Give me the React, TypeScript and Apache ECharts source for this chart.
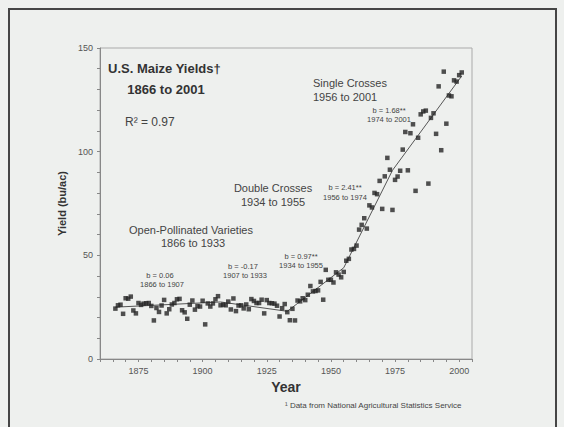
import React, { useEffect, useRef } from "react";
import * as echarts from "echarts";

// U.S. maize yields (bu/ac), one value per year starting 1866
const firstYear = 1866;
const yields = [
  24.3, 25.9, 26.2, 21.8, 29.3, 29.1, 30.1, 23.4, 22.0, 27.0,
  26.1, 26.7, 26.9, 27.0, 25.6, 18.6, 24.6, 22.7, 25.8, 28.5,
  22.0, 24.0, 26.3, 27.0, 28.8, 29.0, 23.5, 22.5, 19.4, 26.2,
  28.2, 23.8, 25.5, 25.3, 28.1, 16.7, 26.8, 25.3, 26.8, 28.8,
  30.3, 25.9, 26.2, 25.9, 27.7, 23.9, 29.2, 23.1, 25.8, 25.9,
  24.4, 26.3, 24.0, 28.9, 28.0, 27.0, 27.0, 28.6, 22.0, 28.4,
  27.0, 26.9, 26.7, 25.7, 20.5, 24.5, 26.5, 22.6, 18.7, 24.2,
  18.6, 28.2, 27.8, 29.3, 28.4, 31.0, 35.2, 32.6, 32.8, 33.1,
  37.2, 28.6, 43.0, 38.2, 38.2, 36.9, 41.8, 40.7, 39.4, 42.0,
  47.4, 48.3, 52.8, 53.1, 54.7, 62.4, 64.7, 67.9, 62.9, 74.1,
  73.1, 80.1, 79.5, 85.9, 72.4, 88.1, 97.0, 91.3, 71.9, 86.4,
  88.0, 90.8, 101.0, 109.5, 91.0, 108.9, 113.2, 81.1, 106.7, 118.0,
  119.4, 119.8, 84.6, 116.3, 118.5, 108.6, 131.5, 100.7, 138.6, 113.5,
  127.1, 126.7, 134.4, 133.8, 136.9, 138.2,
];

// Segmented regression line (break points)
const trendYears = [1866, 1907, 1933, 1955, 1974, 2001];
const trendValues = [25.0, 27.5, 23.0, 44.0, 91.0, 136.5];

// Axis ticks and labels
const xTickLabels = [1875, 1900, 1925, 1950, 1975, 2000];
const xTickMarks = [1860, 1865, 1870, 1875, 1880, 1885, 1890, 1895, 1900, 1905, 1910, 1915, 1920, 1925, 1930, 1935, 1940, 1945, 1950, 1955, 1960, 1965, 1970, 1975, 1980, 1985, 1990, 1995, 2000, 2005];
const yTickLabels = [0, 50, 100, 150];
const yTickMarks = [0, 10, 20, 30, 40, 50, 60, 70, 80, 90, 100, 110, 120, 130, 140, 150];

const FONT = "'Liberation Sans', Arial, sans-serif";

export default function App() {
  const ref = useRef<HTMLDivElement>(null);

  useEffect(() => {
    const chart = echarts.init(ref.current!, null, { renderer: "svg" });
    const points = yields.map((v, i) => [firstYear + i, v]);
    const trend = trendYears.map((y, i) => [y, trendValues[i]]);

    const txt = (t: string, x: number, y: number, size: number, extra: any = {}) => ({
      type: "text",
      x,
      y,
      silent: true,
      z: 10,
      style: {
        text: t,
        fontSize: size,
        fontFamily: FONT,
        fill: "#333",
        align: "center",
        verticalAlign: "middle",
        ...extra,
      },
    });

    chart.setOption({
      animation: false,
      backgroundColor: "#eef0ee",
      grid: {
        left: 100,
        right: 92,
        top: 48,
        bottom: 68,
        show: true,
        borderColor: "#aaa",
        borderWidth: 1,
        backgroundColor: "transparent",
      },
      xAxis: {
        type: "value",
        min: 1860,
        max: 2005,
        name: "Year",
        nameLocation: "middle",
        nameGap: 21,
        nameTextStyle: { fontSize: 14, fontWeight: "bold", color: "#333", fontFamily: FONT },
        axisLine: { show: true, onZero: false, lineStyle: { color: "#888", width: 1 } },
        axisTick: { show: true, customValues: xTickMarks, length: 3, lineStyle: { color: "#888" } },
        axisLabel: {
          customValues: xTickLabels,
          fontSize: 9,
          color: "#555",
          margin: 7,
          fontFamily: FONT,
          formatter: (v: number) => String(v),
        },
        splitLine: { show: false },
      },
      yAxis: {
        type: "value",
        min: 0,
        max: 150,
        name: "Yield (bu/ac)",
        nameLocation: "middle",
        nameGap: 26,
        nameTextStyle: { fontSize: 11, fontWeight: "bold", color: "#333", fontFamily: FONT },
        axisLine: { show: true, lineStyle: { color: "#888", width: 1 } },
        axisTick: { show: true, customValues: yTickMarks, length: 3, lineStyle: { color: "#888" } },
        axisLabel: { customValues: yTickLabels, fontSize: 9, color: "#555", margin: 7, fontFamily: FONT },
        splitLine: { show: false },
      },
      series: [
        {
          type: "line",
          data: trend,
          showSymbol: false,
          lineStyle: { color: "#555", width: 1 },
          z: 2,
          silent: true,
        },
        {
          type: "scatter",
          data: points,
          symbol: "rect",
          symbolSize: 4.5,
          itemStyle: { color: "#262626" },
          z: 3,
          silent: true,
        },
      ],
      graphic: [
        {
          type: "rect",
          silent: true,
          z: 0,
          shape: { x: 9, y: 9, width: 547, height: 440 },
          style: { fill: "none", stroke: "#454545", lineWidth: 2 },
        },
        txt("U.S. Maize Yields\u2020", 108, 68, 13, { fontWeight: "bold", align: "left" }),
        txt("1866 to 2001", 166, 89, 13, { fontWeight: "bold" }),
        txt("R\u00B2 = 0.97", 125, 122, 12, { align: "left", fill: "#444" }),
        txt("Single Crosses", 313, 83, 11, { align: "left", fill: "#444" }),
        txt("1956 to 2001", 313, 97, 11, { align: "left", fill: "#444" }),
        txt("Double Crosses", 273, 188, 11, { fill: "#444" }),
        txt("1934 to 1955", 273, 202, 11, { fill: "#444" }),
        txt("Open-Pollinated Varieties", 191, 230, 11, { fill: "#444" }),
        txt("1866 to 1933", 193, 243, 11, { fill: "#444" }),
        txt("b = 0.06", 160, 275, 7.5, { fill: "#444" }),
        txt("1866 to 1907", 162, 284, 7.5, { fill: "#444" }),
        txt("b = -0.17", 243, 266, 7.5, { fill: "#444" }),
        txt("1907 to 1933", 245, 275, 7.5, { fill: "#444" }),
        txt("b = 0.97**", 301, 256, 7.5, { fill: "#444" }),
        txt("1934 to 1955", 301, 265, 7.5, { fill: "#444" }),
        txt("b = 2.41**", 345, 187, 7.5, { fill: "#444" }),
        txt("1956 to 1974", 345, 197, 7.5, { fill: "#444" }),
        txt("b = 1.68**", 389, 110, 7.5, { fill: "#444" }),
        txt("1974 to 2001", 389, 119, 7.5, { fill: "#444" }),
        txt("\u00B9 Data from National Agricultural Statistics Service", 285, 405, 8, { align: "left", fill: "#444" }),
      ],
    });

    return () => chart.dispose();
  }, []);

  return (
    <div
      ref={ref}
      style={{ position: "fixed", left: 0, top: 0, width: 564, height: 427 }}
    />
  );
}
